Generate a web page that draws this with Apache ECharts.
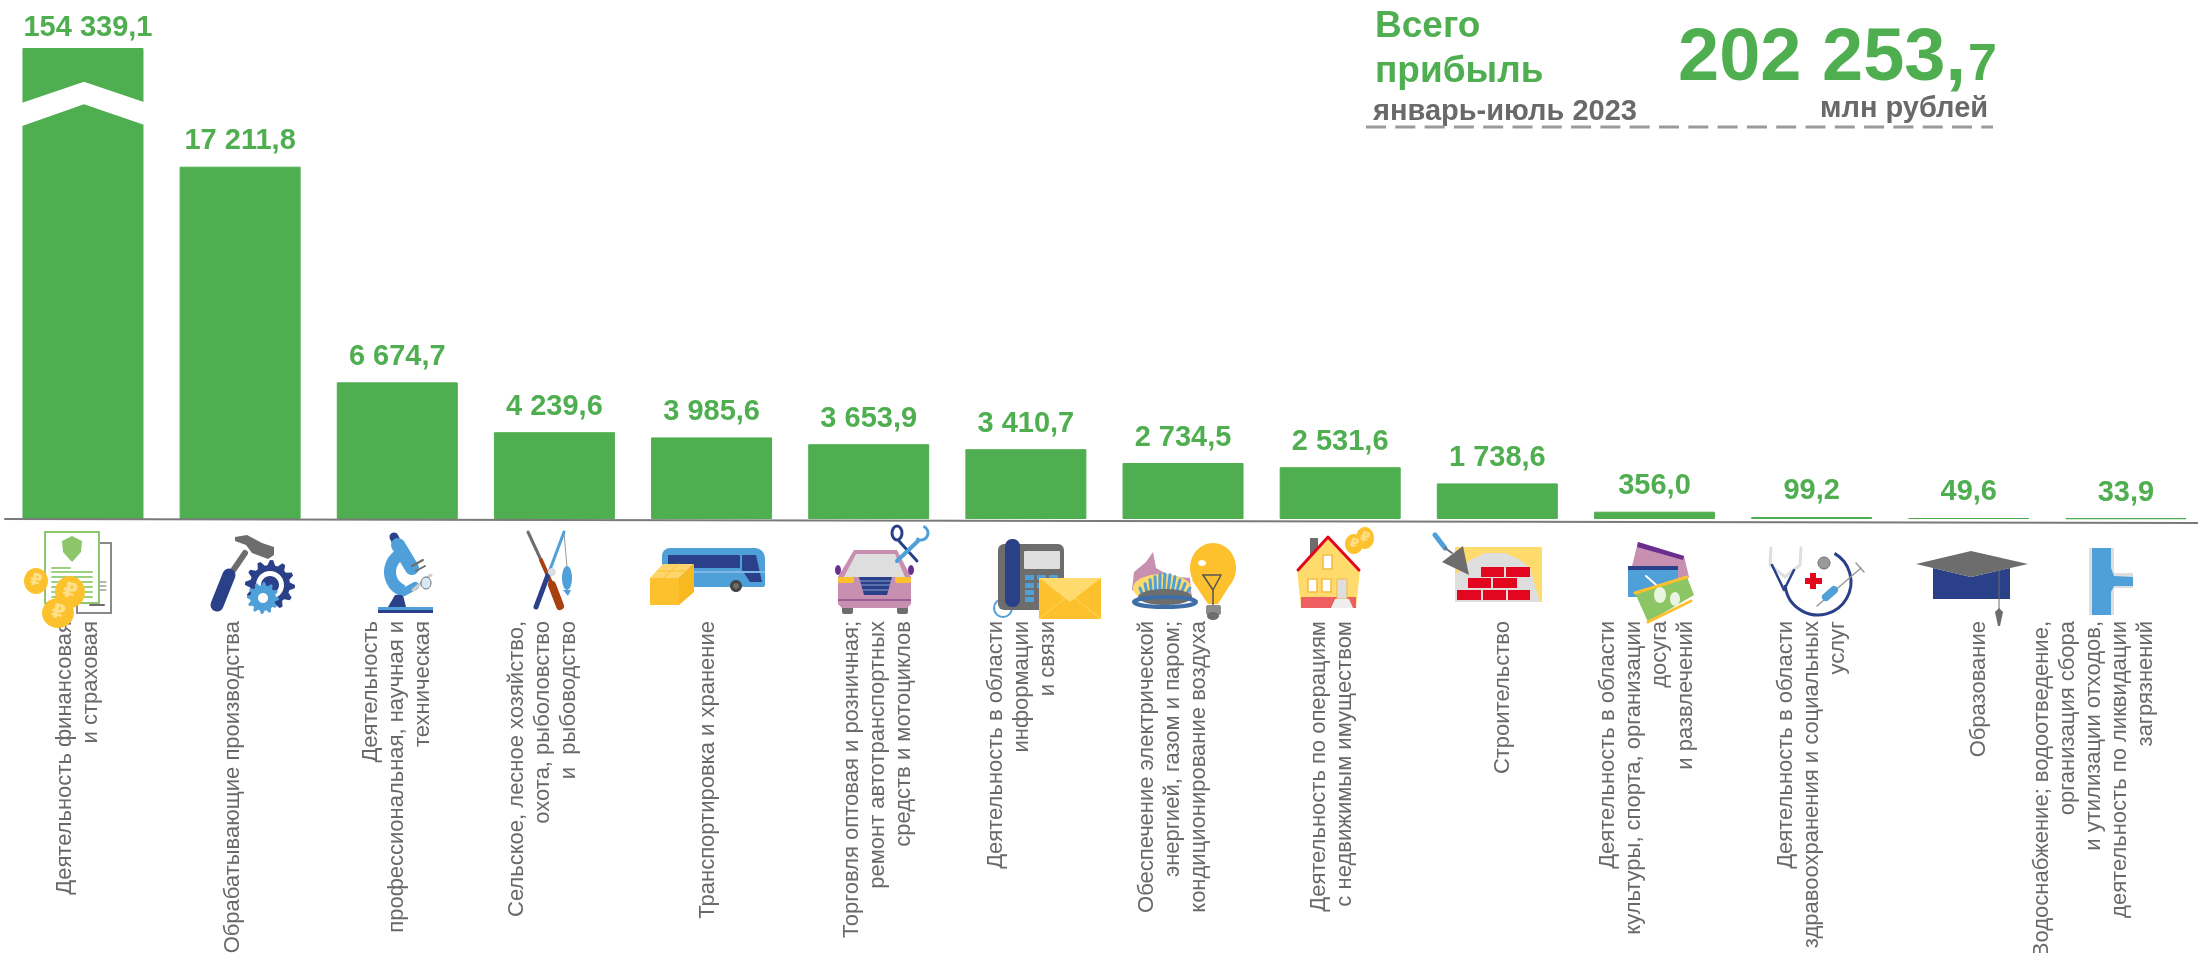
<!DOCTYPE html>
<html lang="ru">
<head>
  <meta charset="UTF-8">
  <title>Прибыль январь-июль 2023</title>
  <script src="https://cdn.jsdelivr.net/npm/echarts@6/dist/echarts.min.js"></script>
  <style type="text/css">
    html, body { margin: 0; padding: 0; background: #fff; }
    #main { width: 2198px; height: 953px; }
  </style>
</head>
<body>
  <div id="main"></div>

  <script type="text/javascript">
    var categories = [
      'Деятельность финансовая\nи страховая',
      'Обрабатывающие производства',
      'Деятельность\nпрофессиональная, научная и\nтехническая',
      'Сельское, лесное хозяйство,\nохота, рыболовство\nи  рыбоводство',
      'Транспортировка и хранение',
      'Торговля оптовая и розничная;\nремонт автотранспортных\nсредств и мотоциклов',
      'Деятельность в области\nинформации\nи связи',
      'Обеспечение электрической\nэнергией, газом и паром;\nкондиционирование воздуха',
      'Деятельность по операциям\nс недвижимым имуществом',
      'Строительство',
      'Деятельность в области\nкультуры, спорта, организации\nдосуга\nи развлечений',
      'Деятельность в области\nздравоохранения и социальных\nуслуг',
      'Образование',
      'Водоснабжение; водоотведение,\nорганизация сбора\nи утилизации отходов,\nдеятельность по ликвидации\nзагрязнений'
    ];
    var profit = [154339.1, 17211.8, 6674.7, 4239.6, 3985.6, 3653.9, 3410.7, 2734.5, 2531.6, 1738.6, 356.0, 99.2, 49.6, 33.9];
    var labelShift = [-5, -7, 0, -11, -4, 9, -4, -10, -8, 6, -8, 0, 10, -32];

    var GREEN = '#4fae50', GRAY = '#6d6d6d', TEXT = '#696969';
    var BLUE = '#4f9fd8', NAVY = '#2a4088', GOLD = '#fdc12e', SAND = '#fedb6c', PINK = '#c78fb0', RED = '#e2061e', PALE = '#dedede';
    var FONT = '"Liberation Sans", Arial, sans-serif';

    function fmt(v) {
      var s = v.toFixed(1).split('.');
      return s[0].replace(/\B(?=(\d{3})+$)/g, ' ') + ',' + s[1];
    }

    // маленькие помощники для иконок
    function rect(x, y, w, h, fill, r, stroke, sw) {
      return { type: 'rect', z: 20, silent: true, shape: { x: x, y: y, width: w, height: h, r: r || 0 }, style: { fill: fill, stroke: stroke || null, lineWidth: sw || 0 } };
    }
    function ell(cx, cy, rx, ry, fill, stroke, sw) {
      return { type: 'ellipse', z: 20, silent: true, shape: { cx: cx, cy: cy, rx: rx, ry: ry }, style: { fill: fill, stroke: stroke || null, lineWidth: sw || 0 } };
    }
    function poly(pts, fill) {
      return { type: 'polygon', z: 20, silent: true, shape: { points: pts }, style: { fill: fill } };
    }
    function line(pts, stroke, w, dash) {
      return { type: 'polyline', z: 20, silent: true, shape: { points: pts }, style: { stroke: stroke, lineWidth: w, lineCap: dash ? 'butt' : 'round', lineJoin: 'round', fill: null, lineDash: dash || null } };
    }
    function arc(cx, cy, r, a0, a1, stroke, w) {
      return { type: 'arc', z: 20, silent: true, shape: { cx: cx, cy: cy, r: r, startAngle: a0 * Math.PI / 180, endAngle: a1 * Math.PI / 180, clockwise: true }, style: { stroke: stroke, lineWidth: w, fill: null } };
    }
    function gear(cx, cy, r, teeth, fill) {
      var pts = [];
      for (var i = 0; i < teeth * 4; i++) {
        var a = i / (teeth * 4) * Math.PI * 2;
        var rr = (i % 4 < 2) ? r : r * 0.8;
        pts.push([cx + Math.cos(a) * rr, cy + Math.sin(a) * rr]);
      }
      return poly(pts, fill);
    }
    function coin(cx, cy, rx, ry) {
      return [ell(cx, cy, rx, ry, GOLD), {
        type: 'text', z: 21, silent: true, x: cx, y: cy, rotation: -0.2,
        style: { text: '₽', font: 'bold ' + Math.round(ry * 1.3) + 'px "DejaVu Sans"', fill: '#ffe08a', align: 'center', verticalAlign: 'middle' }
      }];
    }
    // подпись по базовой линии
    function label(text, x, baseline, size, fill) {
      return { type: 'text', z: 20, silent: true, x: x, y: baseline - 0.27 * size, style: { text: text, font: 'bold ' + size + 'px ' + FONT, fill: fill, verticalAlign: 'middle' } };
    }

    var icons = [].concat(
      // 1 документ и монеты
      rect(77, 543, 34, 70, '#fff', 0, '#8a8a8a', 2),
      line([[97, 582], [106, 582]], GRAY, 1), line([[97, 586], [106, 586]], GRAY, 1), line([[97, 590], [106, 590]], GRAY, 1), line([[90, 605], [104, 605]], GRAY, 2),
      rect(45, 532, 54, 71, '#fff', 0, '#8dc66b', 2),
      poly([[72, 536], [82, 541], [81, 552], [72, 562], [63, 552], [62, 541]], '#8cc56a'),
      line([[52, 568], [70, 568]], '#9bd07c', 2), line([[52, 572], [92, 572]], '#9bd07c', 2), line([[52, 577], [92, 577]], '#9bd07c', 2), line([[52, 582], [92, 582]], '#9bd07c', 2), line([[52, 587], [92, 587]], '#9bd07c', 2), line([[52, 592], [92, 592]], '#9bd07c', 2), line([[52, 597], [92, 597]], '#9bd07c', 2),
      coin(36, 581, 12, 13), coin(70, 592, 15, 16), coin(58, 613, 16, 15),

      // 2 молоток и шестерни
      line([[232, 572], [245, 553]], GRAY, 6),
      line([[229, 575], [217, 605]], NAVY, 13),
      poly([[235, 537], [247, 535], [262, 543], [274, 547], [274, 555], [268, 559], [252, 553], [246, 545], [235, 541]], GRAY),
      gear(270, 585, 25, 12, NAVY), ell(270, 585, 14, 14, '#fff'), ell(270, 585, 9, 9, NAVY),
      gear(263, 598, 16, 12, BLUE), ell(263, 598, 5, 5, '#fff'),

      // 3 микроскоп
      arc(410, 572, 20, 110, 250, BLUE, 12),
      line([[394, 537], [398, 545]], NAVY, 9),
      line([[398, 545], [412, 568]], BLUE, 14),
      line([[412, 566], [423, 560]], GRAY, 2), line([[416, 571], [425, 566]], GRAY, 2),
      poly([[388, 607], [395, 595], [403, 595], [406, 607]], NAVY),
      line([[404, 592], [415, 586]], BLUE, 8),
      line([[413, 590], [431, 575]], '#cfcfcf', 3),
      ell(426, 583, 5, 6, '#d8e8f5', GRAY, 1),
      rect(378, 607, 55, 3, BLUE), rect(378, 610, 55, 3, NAVY),

      // 4 ружьё и удочка
      line([[564, 532], [567, 567]], '#9a9a9a', 1),
      line([[528, 532], [541, 560]], GRAY, 3),
      line([[541, 560], [552, 585]], '#a8410f', 4),
      line([[552, 585], [560, 606]], '#a8410f', 8),
      line([[564, 532], [548, 575]], BLUE, 3),
      line([[548, 575], [536, 607]], NAVY, 5),
      ell(552, 572, 4, 4, PALE),
      ell(567, 578, 5, 12, BLUE),
      poly([[563, 590], [571, 590], [568, 596]], BLUE),

      // 5 автобус и коробка
      rect(662, 548, 103, 39, BLUE, [8, 10, 2, 2]),
      rect(668, 555, 72, 13, NAVY, 1),
      poly([[742, 555], [756, 555], [762, 582], [750, 582], [742, 570]], NAVY),
      rect(662, 571, 103, 2, '#7db9e4'),
      ell(736, 586, 6, 6, '#444'), ell(736, 586, 3, 3, GRAY),
      rect(650, 578, 29, 27, GOLD),
      poly([[650, 578], [663, 564], [694, 564], [679, 578]], '#fed56a'),
      poly([[679, 578], [694, 564], [694, 592], [679, 605]], '#f7b91f'),
      line([[664, 578], [678, 564]], '#fdc12e', 1), line([[657, 571], [687, 571]], '#fdc12e', 1),

      // 6 машина и инструменты
      rect(842, 606, 11, 8, GRAY, 2), rect(897, 606, 11, 8, GRAY, 2),
      poly([[854, 550], [897, 550], [911, 577], [911, 604], [907, 608], [842, 608], [838, 604], [838, 577]], PINK),
      poly([[856, 554], [895, 554], [905, 577], [844, 577]], PALE),
      ell(838, 570, 3, 5, '#6a2f8e'), ell(911, 570, 3, 5, '#6a2f8e'),
      rect(838, 577, 16, 6, GOLD, 2), rect(895, 577, 16, 6, GOLD, 2),
      poly([[859, 577], [892, 577], [887, 595], [864, 595]], NAVY),
      line([[860, 581], [891, 581]], '#8f9fd0', 1), line([[861, 585], [890, 585]], '#8f9fd0', 1), line([[863, 590], [888, 590]], '#8f9fd0', 1),
      rect(838, 599, 73, 2, '#9c5e92'),
      line([[899, 541], [917, 561]], NAVY, 3), ell(897, 533, 5, 7, '#fff', NAVY, 3),
      line([[918, 541], [897, 561]], BLUE, 4), arc(921, 533, 7, -70, 130, BLUE, 3),

      // 7 телефон и конверт
      arc(1003, 608, 9, 0, 360, BLUE, 2),
      rect(998, 544, 66, 66, GRAY, 6),
      rect(1005, 539, 15, 68, NAVY, 7),
      rect(1024, 551, 36, 18, PALE, 1),
      rect(1025, 575, 9, 5, BLUE), rect(1037, 575, 9, 5, BLUE), rect(1049, 575, 9, 5, BLUE),
      rect(1025, 583, 9, 5, BLUE), rect(1037, 583, 9, 5, BLUE),
      rect(1025, 590, 9, 5, BLUE), rect(1025, 597, 9, 5, BLUE),
      rect(1039, 578, 62, 41, GOLD),
      poly([[1039, 578], [1101, 578], [1070, 602]], SAND),
      line([[1039, 619], [1065, 598]], '#ffd75f', 1), line([[1101, 619], [1075, 598]], '#ffd75f', 1),

      // 8 горелка и лампа
      poly([[1132, 590], [1134, 572], [1146, 562], [1153, 552], [1156, 568], [1170, 576], [1190, 578], [1192, 600], [1160, 604]], PINK),
      ell(1162, 588, 29, 14, SAND),
      [0, 1, 2, 3, 4, 5, 6, 7, 8, 9, 10].map(function (i) { return line([[1140 + i * 5, 588 - Math.sin(i / 10 * Math.PI) * 14], [1143 + i * 4.2, 596 - Math.sin(i / 10 * Math.PI) * 6]], BLUE, 3); }),
      ell(1165, 597, 27, 8, GRAY),
      ell(1165, 602, 31, 5, 'rgba(0,0,0,0)', '#3e6ea8', 4),
      poly([[1192, 580], [1208, 604], [1218, 604], [1233, 580]], GOLD),
      ell(1213, 568, 23, 25, GOLD),
      ell(1202, 563, 4, 3, '#fff'),
      line([[1203, 575], [1221, 575], [1213, 590], [1213, 605]], '#555', 1.5), line([[1203, 575], [1213, 590]], '#555', 1.5),
      rect(1206, 605, 15, 10, '#8c8c8c', 2),
      ell(1213, 616, 6, 4, GRAY),

      // 9 дом и монеты
      rect(1310, 538, 8, 20, GRAY),
      poly([[1328, 537], [1360, 570], [1356, 608], [1301, 608], [1297, 570]], SAND),
      rect(1301, 597, 55, 11, '#ee5f62'),
      line([[1298, 570], [1328, 537], [1359, 570]], RED, 3),
      rect(1323, 555, 9, 14, '#fff', 0, '#f5b942', 1.5),
      rect(1308, 579, 9, 13, '#fff', 0, '#f5b942', 1.5), rect(1322, 579, 9, 13, '#fff', 0, '#f5b942', 1.5),
      rect(1337, 579, 10, 20, PALE, 0, '#f5b942', 1),
      poly([[1335, 599], [1349, 599], [1353, 608], [1331, 608]], '#eee'),
      coin(1365, 538, 9, 11), coin(1354, 544, 9, 10),

      // 10 кирпичи и мастерок
      rect(1455, 547, 87, 55, SAND),
      poly([[1455, 575], [1470, 560], [1485, 553], [1505, 553], [1520, 560], [1530, 568], [1535, 585], [1540, 602], [1455, 602]], PALE),
      rect(1481, 567, 23, 10, RED), rect(1506, 567, 24, 10, RED),
      rect(1468, 578, 23, 10, RED), rect(1493, 578, 24, 10, RED),
      rect(1457, 590, 24, 10, RED), rect(1483, 590, 23, 10, RED), rect(1508, 590, 22, 10, RED),
      poly([[1463, 546], [1442, 562], [1469, 575]], GRAY),
      line([[1435, 535], [1445, 548]], BLUE, 5), line([[1445, 548], [1452, 553]], GRAY, 2),

      // 11 билеты
      poly([[1638, 542], [1684, 556], [1689, 577], [1680, 592], [1631, 570]], PINK),
      poly([[1638, 542], [1684, 556], [1683, 560], [1637, 547]], '#6a2f8e'),
      rect(1628, 566, 50, 31, BLUE), rect(1628, 566, 50, 4, NAVY),
      line([[1646, 576], [1662, 590]], '#fff', 2),
      poly([[1635, 593], [1687, 577], [1694, 595], [1648, 622]], '#8cc563'),
      line([[1635, 593], [1687, 577]], GOLD, 3), line([[1648, 622], [1691, 601]], GOLD, 3),
      ell(1660, 595, 6, 8, '#e9f5df'), ell(1675, 599, 5, 7, '#e9f5df'),

      // 12 стетоскоп и шприц
      line([[1771, 548], [1770, 565], [1785, 577], [1800, 565], [1801, 548]], PALE, 3),
      arc(1818, 582, 33, -60, 175, NAVY, 3),
      line([[1772, 565], [1784, 590], [1794, 570]], NAVY, 2.5),
      ell(1824, 563, 6, 6, '#999', GRAY, 1),
      rect(1805, 578, 17, 6, RED), rect(1810, 573, 6, 16, RED),
      line([[1817, 606], [1861, 568]], '#999', 1.5),
      line([[1826, 597], [1834, 590]], BLUE, 8),
      line([[1856, 563], [1864, 572]], '#999', 1.5),

      // 13 шапочка
      poly([[1933, 568], [1971, 577], [2010, 568], [2010, 599], [1933, 599]], NAVY),
      poly([[1916, 564], [1971, 551], [2028, 564], [1971, 577]], GRAY),
      line([[1999, 570], [1999, 610]], GRAY, 1),
      poly([[1995, 612], [1999, 608], [2003, 612], [2000, 626], [1998, 626]], GRAY),

      // 14 труба
      rect(2089, 548, 25, 67, PALE), rect(2110, 573, 23, 15, PALE),
      rect(2092, 548, 19, 67, BLUE),
      poly([[2111, 568], [2114, 576], [2133, 577], [2133, 586], [2114, 586], [2111, 592]], BLUE),

      // шапка
      label('Всего', 1375, 37, 37, GREEN),
      label('прибыль', 1375, 82, 37, GREEN),
      label('январь-июль 2023', 1373, 120, 29, TEXT),
      label('млн рублей', 1820, 117, 29, TEXT),
      label('202 253,', 1678, 80, 74, GREEN),
      label('7', 1968, 80, 52, GREEN),
      line([[1366, 127], [1993, 127]], '#9a9a9a', 3, [20, 9.3]),

      // линия оси, слегка наклонная
      line([[5, 519], [2198, 523]], '#7a7a7a', 2),

      // разрыв первого столбца
      poly([[20, 103.5], [84, 81.7], [146, 102.7], [146, 125.5], [84, 104.3], [20, 126.7]], '#fff')
    );

    // подписи категорий: у каждой свой сдвиг, поэтому не axisLabel, а custom
    function renderCategoryLabel(params, api) {
      var i = api.value(0);
      var pt = api.coord([i, 0]);
      return {
        type: 'text',
        silent: true,
        x: pt[0] + labelShift[i],
        y: pt[1] + 102,
        rotation: Math.PI / 2,
        style: {
          text: categories[i],
          font: '22px ' + FONT,
          fill: TEXT,
          align: 'right',
          verticalAlign: 'middle',
          lineHeight: 26
        }
      };
    }

    var chart = echarts.init(document.getElementById('main'), null, { renderer: 'canvas' });

    chart.setOption({
      animation: false,
      backgroundColor: '#fff',
      grid: { left: 4.4, top: 48, width: 2200.1, height: 471, outerBoundsMode: 'none' },
      xAxis: {
        type: 'category',
        data: categories,
        axisLine: { show: false },
        axisTick: { show: false },
        axisLabel: { show: false }
      },
      yAxis: {
        type: 'value',
        show: false,
        min: 0,
        max: 154339.1,
        splitLine: { show: false },
        // первый столбец сильно выше остальных, ось с разрывом
        breaks: [{ start: 19500, end: 150829, gap: 0 }],
        breakArea: { show: false }
      },
      series: [{
        type: 'bar',
        barWidth: 121,
        itemStyle: { color: GREEN, borderColor: GREEN, borderWidth: 1 },
        label: {
          show: true,
          position: 'top',
          distance: 11,
          color: GREEN,
          fontFamily: FONT,
          fontWeight: 'bold',
          fontSize: 29,
          formatter: function (p) { return fmt(p.value); }
        },
        data: profit.map(function (v, i) {
          return i === 0 ? { value: v, label: { offset: [5, 5] } } : v;
        })
      }, {
        type: 'custom',
        silent: true,
        renderItem: renderCategoryLabel,
        encode: { x: 0, y: 1 },
        data: categories.map(function (c, i) { return [i, 0]; })
      }],
      graphic: { elements: icons }
    });
  </script>
</body>
</html>
